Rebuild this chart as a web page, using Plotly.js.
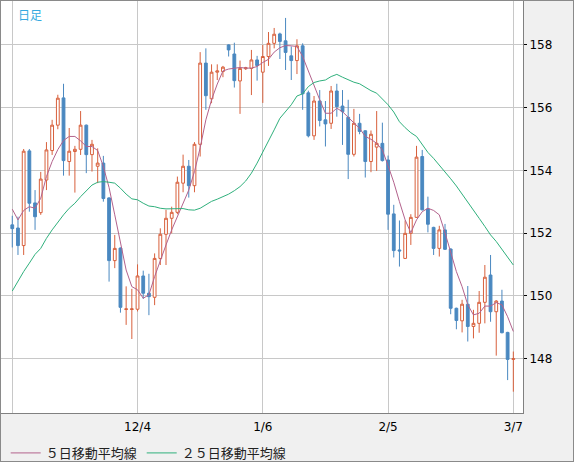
<!DOCTYPE html>
<html><head><meta charset="utf-8">
<script src="https://cdn.plot.ly/plotly-3.0.1.min.js"></script>
<style>html,body{margin:0;padding:0;background:#f0f0f0;}#wrap{position:relative;width:574px;height:462px;}#chart{width:574px;height:462px;}#frame{position:absolute;left:0;top:0;width:574px;height:462px;box-sizing:border-box;border:1px solid #8a8a8a;pointer-events:none;}</style>
</head><body><div id="wrap"><div id="chart"></div><div id="frame"></div></div>
<script>
const dates = ["11/4","11/5","11/6","11/7","11/8","11/11","11/12","11/13","11/14","11/15","11/18","11/19","11/20","11/21","11/22","11/25","11/26","11/27","11/28","11/29",
"12/2","12/3","12/4","12/5","12/6","12/9","12/10","12/11","12/12","12/13","12/16","12/17","12/18","12/19","12/20","12/23","12/24","12/25","12/26","12/27","12/30","12/31",
"1/2","1/3","1/6","1/7","1/8","1/9","1/10","1/13","1/14","1/15","1/16","1/17","1/20","1/21","1/22","1/23","1/24","1/27","1/28","1/29","1/30","1/31",
"2/3","2/4","2/5","2/6","2/7","2/10","2/11","2/12","2/13","2/14","2/17","2/18","2/19","2/20","2/21","2/24","2/25","2/26","2/27","2/28",
"3/3","3/4","3/5","3/6","3/7"];
const openP = [152.26,152.16,151.60,154.62,152.96,152.65,153.69,154.63,155.44,156.31,154.28,154.60,154.67,155.44,154.50,154.13,154.23,153.12,151.12,151.52,
149.56,149.56,149.57,150.63,150.08,149.95,151.19,151.96,152.47,152.66,153.59,154.13,153.51,154.83,157.42,156.28,157.13,157.15,158.00,157.71,156.85,157.24,
157.25,157.52,157.13,157.63,158.05,158.35,158.13,157.65,157.50,157.97,156.47,155.10,156.21,155.61,155.50,156.53,156.05,155.69,154.51,155.50,155.26,154.28,
154.74,154.86,154.33,152.61,151.46,151.19,151.99,152.50,154.44,152.77,152.18,151.51,152.10,151.49,149.60,149.20,149.73,149.02,149.12,149.79,
150.66,149.49,149.83,148.83,147.97];
const highP = [152.55,152.52,154.68,154.68,153.37,153.95,154.90,155.61,156.41,156.76,155.35,154.78,155.89,155.46,154.97,154.70,154.46,153.14,151.94,151.54,
150.30,150.22,151.00,150.80,150.70,151.35,152.15,152.74,152.84,153.80,154.50,154.33,154.90,157.77,157.89,157.38,157.38,157.33,158.02,158.07,157.50,157.30,
157.84,157.65,158.00,158.41,158.54,158.39,158.86,157.95,158.18,158.05,156.54,156.37,156.56,156.21,156.69,156.76,156.56,156.25,155.96,155.80,155.28,155.27,
155.89,155.52,154.47,152.90,152.40,152.40,152.60,154.78,154.65,153.16,152.20,152.23,152.29,151.51,149.62,149.87,150.31,149.55,150.15,150.98,
151.30,149.86,150.19,148.85,148.22];
const lowP = [151.54,151.30,151.30,152.68,152.10,152.58,153.37,154.49,155.31,153.83,153.83,153.29,154.49,153.91,153.96,153.59,153.00,150.45,150.88,149.46,
149.07,148.62,149.50,149.90,149.38,149.70,150.98,150.98,151.99,152.60,153.30,153.13,153.30,154.44,155.93,156.14,156.88,156.97,157.63,156.64,155.80,157.20,
156.40,156.86,156.15,157.33,157.89,157.55,157.20,156.88,157.07,155.93,155.05,154.97,155.40,154.76,155.32,155.71,154.81,153.72,154.44,155.15,153.77,153.94,
153.98,154.28,152.10,151.22,150.93,151.17,151.62,152.48,152.72,152.02,151.30,151.25,151.46,149.41,148.93,148.83,148.54,148.64,148.82,149.12,
149.17,148.09,148.80,147.31,146.94];
const closeP = [152.14,151.60,154.61,152.95,152.52,153.72,154.65,155.44,156.30,154.31,154.61,154.67,155.44,154.50,154.83,154.23,153.10,151.12,151.51,149.63,
149.58,149.58,150.63,150.08,149.97,151.19,151.96,152.47,152.66,153.62,154.13,153.51,154.83,157.42,156.38,157.13,157.17,157.29,157.84,156.86,157.25,157.27,
157.52,157.34,157.63,158.05,158.34,158.11,157.76,157.50,157.97,156.44,155.10,156.21,155.59,155.48,156.53,156.03,155.87,154.51,155.50,155.24,154.28,155.15,
154.86,154.31,152.60,151.44,151.43,151.99,152.50,154.42,152.74,152.28,151.51,152.10,151.48,149.60,149.21,149.73,149.02,149.12,149.79,150.59,
149.49,149.83,148.82,147.97,147.99];
const ma5 = [152.76,152.42,152.72,152.84,152.79,153.11,153.80,154.28,154.66,154.95,155.08,155.08,154.94,154.76,154.76,154.63,154.12,153.45,152.58,151.69,
150.82,150.29,150.19,149.92,150.03,150.61,151.14,151.62,152.10,152.52,152.95,153.37,153.96,154.72,155.61,156.25,156.75,157.17,157.23,157.26,157.28,157.26,
157.26,157.31,157.44,157.54,157.77,157.91,157.98,157.97,157.95,157.63,157.15,156.69,156.25,155.82,155.82,155.98,155.87,155.69,155.50,155.34,155.08,154.99,
154.86,154.65,154.15,153.62,153.00,152.42,152.01,152.42,152.68,152.79,152.72,152.58,152.01,151.35,150.77,150.29,149.71,149.39,149.44,149.67,
149.67,149.78,149.71,149.33,148.86];
const ma25 = [150.15,150.48,150.77,151.04,151.32,151.51,151.83,152.10,152.35,152.58,152.79,152.95,153.16,153.35,153.53,153.62,153.64,153.62,153.59,153.43,
153.24,153.09,153.06,152.95,152.86,152.84,152.79,152.77,152.77,152.78,152.78,152.74,152.73,152.79,152.90,153.01,153.08,153.16,153.24,153.35,153.48,153.66,
153.91,154.23,154.57,154.92,155.29,155.66,155.87,156.09,156.37,156.44,156.67,156.80,156.85,156.88,156.99,157.06,156.97,156.88,156.81,156.76,156.65,156.54,
156.46,156.28,156.09,155.86,155.55,155.36,155.20,155.08,154.83,154.57,154.38,154.17,153.96,153.73,153.50,153.25,153.00,152.74,152.47,152.21,
151.94,151.73,151.48,151.25,150.98];
const priceTicks = [148,150,152,154,156,158];
const dateTicks = ["11/4","12/4","1/6","2/5","3/7"];
const dateTickText = ["","12/4","1/6","2/5","3/7"];
const ma5Name = "５日移動平均線";
const ma25Name = "２５日移動平均線";
const periodLabel = "日足";

const UP = "#d8603c", DOWN = "#4a88c0", C5 = "#b3628c", C25 = "#2fb07c";
const tickFont = {family: "DejaVu Sans", size: 12, color: "#000"};

const traces = [
  {type: "candlestick", x: dates, open: openP, high: highP, low: lowP, close: closeP,
   increasing: {line: {color: UP, width: 1}, fillcolor: "#ffffff"},
   decreasing: {line: {color: DOWN, width: 1}, fillcolor: DOWN},
   whiskerwidth: 0, showlegend: false, hoverinfo: "skip"},
  {type: "scatter", mode: "lines", x: dates, y: ma5, name: ma5Name,
   line: {color: C5, width: 1}, hoverinfo: "skip"},
  {type: "scatter", mode: "lines", x: dates, y: ma25, name: ma25Name,
   line: {color: C25, width: 1}, hoverinfo: "skip"}
];

const layout = {
  width: 574, height: 462,
  margin: {l: 1, r: 51, t: 1, b: 49, pad: 0, autoexpand: false},
  paper_bgcolor: "#f0f0f0", plot_bgcolor: "#ffffff",
  font: {family: "Noto Sans CJK JP", size: 12, color: "#222"},
  xaxis: {type: "category", range: [-1.98, 89.7], rangeslider: {visible: false},
    tickmode: "array", tickvals: dateTicks, ticktext: dateTickText,
    showgrid: true, gridcolor: "#c8c8c8", gridwidth: 1,
    showline: true, mirror: true, linecolor: "#808080", linewidth: 1,
    ticks: "outside", ticklen: 3, tickcolor: "rgba(0,0,0,0)", tickfont: tickFont,
    fixedrange: true, zeroline: false, automargin: false},
  yaxis: {side: "right", range: [146.26, 159.40], tickmode: "array", tickvals: priceTicks,
    showgrid: true, gridcolor: "#c8c8c8", gridwidth: 1,
    showline: true, mirror: true, linecolor: "#808080", linewidth: 1,
    ticks: "outside", ticklen: 3, tickcolor: "#000", tickfont: tickFont,
    zeroline: false, fixedrange: true, automargin: false},
  showlegend: true,
  legend: {orientation: "h", x: 0.009, xanchor: "left", y: -0.097, yanchor: "middle",
    bgcolor: "rgba(0,0,0,0)", font: {family: "Noto Sans CJK JP", size: 13, color: "#222"},
    itemwidth: 30, tracegroupgap: 0},
  annotations: [{text: periodLabel, xref: "paper", yref: "paper", x: 0.029, y: 0.992,
    xanchor: "left", yanchor: "top", showarrow: false,
    font: {family: "Noto Sans CJK JP", size: 12, color: "#35a9e0"}}]
};

Plotly.newPlot("chart", traces, layout, {staticPlot: true, displayModeBar: false});
</script></body></html>
